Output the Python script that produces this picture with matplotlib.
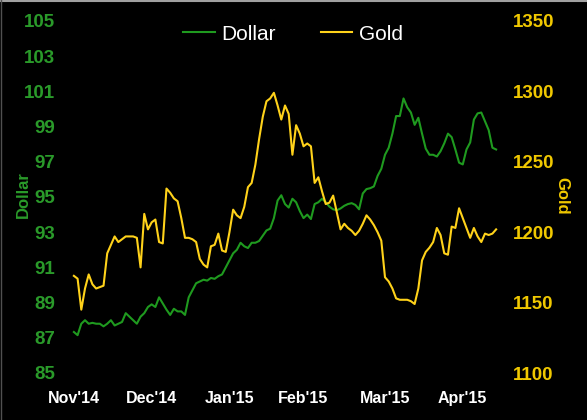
import matplotlib
matplotlib.use("Agg")
import matplotlib.pyplot as plt
from matplotlib.lines import Line2D

# trading-day series, Nov'14 -> mid Apr'15
dollar = [87.33, 87.15, 87.8, 88.0, 87.8, 87.85, 87.8, 87.8, 87.65, 87.8,
          88.0, 87.7, 87.8, 87.9, 88.4, 88.2, 88.0, 87.8, 88.2, 88.4,
          88.75, 88.9, 88.75, 89.3, 88.95, 88.6, 88.3, 88.65, 88.5, 88.5,
          88.3, 89.3, 89.7, 90.1, 90.2, 90.3, 90.25, 90.4, 90.35, 90.5,
          90.6, 91.0, 91.4, 91.8, 92.0, 92.4, 92.2, 92.1, 92.4, 92.4,
          92.5, 92.8, 93.1, 93.2, 93.8, 94.8, 95.1, 94.6, 94.4, 94.9,
          94.7, 94.2, 93.8, 94.0, 93.75, 94.6, 94.7, 94.9, 94.7, 94.45,
          94.3, 94.25, 94.35, 94.5, 94.6, 94.65, 94.55, 94.3, 95.2, 95.45,
          95.5, 95.6, 96.2, 96.6, 97.4, 97.8, 98.6, 99.6, 99.6, 100.6,
          100.1, 99.8, 99.1, 99.5, 98.6, 97.75, 97.4, 97.4, 97.3, 97.6,
          98.05, 98.6, 98.4, 97.7, 96.95, 96.85, 97.7, 98.1, 99.4, 99.75,
          99.8, 99.3, 98.8, 97.8, 97.7]

gold = [1169, 1167, 1145, 1160, 1170, 1163, 1160, 1161, 1162, 1185,
        1191, 1197, 1193, 1195, 1197, 1197, 1197, 1196, 1175, 1213,
        1202, 1207, 1209, 1193, 1192, 1231, 1228, 1224, 1222, 1210,
        1196, 1196, 1195, 1193, 1181, 1177, 1175, 1190, 1191, 1199,
        1187, 1186, 1200, 1216, 1212, 1210, 1218, 1232, 1235, 1248,
        1266, 1282, 1293, 1295, 1299, 1290, 1280, 1290, 1284, 1255,
        1276, 1270, 1261, 1263, 1261, 1235, 1239, 1229, 1220, 1221,
        1226, 1214, 1202, 1206, 1203, 1201, 1198, 1201, 1206, 1212,
        1209, 1205, 1200, 1194, 1168, 1165, 1160, 1153, 1152, 1152,
        1152, 1151, 1149, 1160, 1180, 1186, 1189, 1193, 1203, 1198,
        1185, 1184, 1204, 1203, 1217, 1210, 1203, 1196, 1203, 1197,
        1193, 1199, 1198, 1199, 1202]

month_pos = [0, 21, 42, 62, 84, 105]
month_labels = ["Nov'14", "Dec'14", "Jan'15", "Feb'15", "Mar'15", "Apr'15"]
dollar_ticks = list(range(85, 106, 2))
gold_ticks = list(range(1100, 1351, 50))

GREEN = "#1f9a1f"
GREEN_TXT = "#2a9a2a"
YELLOW = "#ffd21a"
YELLOW_TXT = "#f0c800"
NARROW = ["Liberation Sans Narrow", "Liberation Sans", "DejaVu Sans"]

plt.rcParams["font.family"] = ["Liberation Sans", "DejaVu Sans"]

fig = plt.figure(figsize=(5.87, 4.2), dpi=100, facecolor="black")
W, H = 587, 420

# thin grey frame on top and left edge
fig.add_artist(Line2D([0, 1], [1 - 1 / H, 1 - 1 / H], color="#a0a0a0", lw=1.5,
                      transform=fig.transFigure))
fig.add_artist(Line2D([0.5 / W, 0.5 / W], [0, 1], color="#505050", lw=1,
                      transform=fig.transFigure))

ax = fig.add_axes([65 / W, (H - 373) / H, 440 / W, 352 / H], facecolor="black")
ax2 = ax.twinx()

x = list(range(len(dollar)))
l1, = ax.plot(x, dollar, color=GREEN, lw=1.5, label="Dollar")
l2, = ax2.plot(x, gold, color=YELLOW, lw=1.5, label="Gold")

ax.set_xlim(-2.4, 116.4)
ax.set_ylim(85, 105)
ax2.set_ylim(1100, 1350)

ax.set_xticks(month_pos)
ax.set_xticklabels(month_labels, color="white", fontsize=11.5, fontweight="bold")
ax.set_yticks(dollar_ticks)
ax.set_yticklabels(dollar_ticks, color=GREEN_TXT, fontsize=13.5,
                   fontweight="bold", family=NARROW)
ax2.set_yticks(gold_ticks)
ax2.set_yticklabels(gold_ticks, color=YELLOW_TXT, fontsize=13.5,
                    fontweight="bold", family=NARROW)

ax.tick_params(axis="x", length=0, pad=13)
ax.tick_params(axis="y", length=0, pad=7)
ax2.tick_params(axis="y", length=0, pad=6)

for a in (ax, ax2):
    for s in a.spines.values():
        s.set_visible(False)

fig.text(23 / W, 1 - 195 / H, "Dollar", rotation=90, color=GREEN_TXT,
         fontsize=12, fontweight="bold", ha="center", va="center")
fig.text(562 / W, 1 - 196 / H, "Gold", rotation=270, color=YELLOW_TXT,
         fontsize=12, fontweight="bold", ha="center", va="center")

leg = fig.legend([l1, l2], ["Dollar", "Gold"], loc="center",
                 bbox_to_anchor=(293 / W, 1 - 34 / H), ncol=2, frameon=False,
                 fontsize=15, handlelength=1.5, handletextpad=0.3,
                 columnspacing=2.2)
for t in leg.get_texts():
    t.set_color("white")

fig.savefig("out.png", dpi=100, facecolor=fig.get_facecolor())
